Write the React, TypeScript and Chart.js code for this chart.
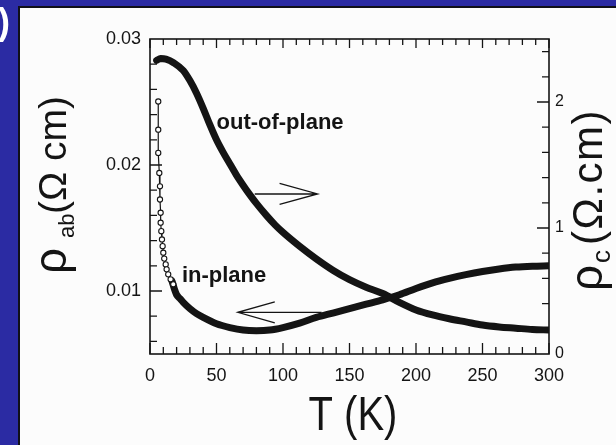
import React, { useEffect, useRef } from "react";
import { Chart, registerables } from "chart.js";

Chart.register(...registerables);

// ---- data ----
// in-plane resistivity rho_ab (Ω cm), open circles at low temperature
const inPlaneCircleT = [6.2, 6.2, 6.2, 7.0, 7.5, 7.5, 8.0, 8.0, 8.5, 9.0, 9.5, 10.0, 10.7, 11.8, 12.5, 13.7, 15.5, 17.5];
const inPlaneCircleRho = [0.02504, 0.0228, 0.02096, 0.01937, 0.01831, 0.01726, 0.01621, 0.01542, 0.01475, 0.01409, 0.01356, 0.01304, 0.01257, 0.01211, 0.01172, 0.01132, 0.01093, 0.01053];
// in-plane resistivity, dense (thick) part
const inPlaneT = [16.5, 17.5, 18.5, 20, 22.5, 25, 30, 35, 40, 50, 60, 70, 80, 90, 100, 112.5, 125, 137.5, 150, 162.5, 175, 187.5, 200, 212.5, 225, 237.5, 250, 262.5, 275, 287.5, 300];
const inPlaneRho = [0.0108, 0.01045, 0.0101, 0.0097, 0.0094, 0.0091, 0.0086, 0.0082, 0.0079, 0.0074, 0.0071, 0.0069, 0.00685, 0.0069, 0.0071, 0.00745, 0.0079, 0.00825, 0.0086, 0.00895, 0.0093, 0.0097, 0.0102, 0.01065, 0.011, 0.0113, 0.01155, 0.01175, 0.0119, 0.01197, 0.012];
// out-of-plane resistivity rho_c (Ω.cm), right axis
const outPlaneT = [5, 8, 12, 18, 25, 30, 35, 40, 45, 50, 55, 60, 65, 70, 75, 80, 87.5, 94, 100, 112.5, 125, 137.5, 150, 162.5, 175, 187.5, 200, 212.5, 225, 237.5, 250, 262.5, 275, 287.5, 300];
const outPlaneRho = [2.33, 2.345, 2.34, 2.31, 2.25, 2.17, 2.07, 1.95, 1.82, 1.70, 1.60, 1.51, 1.42, 1.34, 1.265, 1.195, 1.10, 1.025, 0.965, 0.855, 0.755, 0.665, 0.59, 0.53, 0.48, 0.41, 0.35, 0.31, 0.28, 0.255, 0.23, 0.215, 0.205, 0.195, 0.19];

// tick labels
const xTickValues = [0, 50, 100, 150, 200, 250, 300];
const leftTickValues = [0.01, 0.02, 0.03];
const rightTickValues = [0, 1, 2];

// annotation anchors (data units)
const outLabelPos = { T: 50, rho: 1.786 };      // right axis
const inLabelPos = { T: 24, rho: 0.01069 };     // left axis
const rightArrow = { T0: 78.75, T1: 126, rho: 1.27 };   // right axis
const leftArrow = { T0: 66, T1: 129, rho: 0.00831 };    // left axis

const FONT = '"Liberation Sans", Arial, Helvetica, sans-serif';
const INK = "#141414";
const BLUE = "#2b2ba3";

const backgroundPlugin = {
  id: "slideBackground",
  beforeDraw(chart: any) {
    const { ctx, width, height } = chart;
    ctx.save();
    ctx.fillStyle = BLUE;
    ctx.fillRect(0, 0, width, height);
    ctx.fillStyle = "#101018";
    ctx.fillRect(18, 6, width - 18, height - 6);
    ctx.fillStyle = "#fcfcfc";
    ctx.fillRect(20, 8, width - 20, height - 8);
    ctx.fillStyle = "#ffffff";
    ctx.font = `bold 36px ${FONT}`;
    ctx.textBaseline = "alphabetic";
    ctx.fillText(")", -2, 34);
    ctx.restore();
  },
};

function drawRotatedRuns(ctx: CanvasRenderingContext2D, x: number, y: number, runs: any[]) {
  ctx.save();
  ctx.translate(x, y);
  ctx.rotate(-Math.PI / 2);
  ctx.textAlign = "left";
  ctx.textBaseline = "alphabetic";
  for (const r of runs) {
    ctx.font = r.font;
    (ctx as any).letterSpacing = r.spacing || "0px";
    ctx.fillText(r.text, r.along, r.dy || 0);
  }
  ctx.restore();
}

const decorPlugin = {
  id: "decor",
  afterDatasetsDraw(chart: any) {
    const { ctx, chartArea: a, scales } = chart;
    const sx = scales.x, sy = scales.y, sy2 = scales.y2;
    ctx.save();
    // frame
    ctx.strokeStyle = INK;
    ctx.lineWidth = 1.6;
    ctx.strokeRect(a.left, a.top, a.right - a.left, a.bottom - a.top);
    // inward ticks
    ctx.lineWidth = 1.3;
    ctx.beginPath();
    for (let t = 0; t <= 300; t += 10) {
      const px = sx.getPixelForValue(t);
      const major = t % 50 === 0;
      ctx.moveTo(px, a.bottom);
      ctx.lineTo(px, a.bottom - (major ? 11 : 7));
      ctx.moveTo(px, a.top);
      ctx.lineTo(px, a.top + (major ? 9 : 6));
    }
    for (let i = 3; i <= 14; i++) {
      const py = sy.getPixelForValue(i * 0.002);
      const major = i % 5 === 0;
      ctx.moveTo(a.left, py);
      ctx.lineTo(a.left + (major ? 12 : 7), py);
    }
    for (let j = 1; j <= 12; j++) {
      const py = sy2.getPixelForValue(j * 0.2);
      const major = j % 5 === 0;
      ctx.moveTo(a.right, py);
      ctx.lineTo(a.right - (major ? 12 : 7), py);
    }
    ctx.stroke();

    // arrows
    ctx.lineWidth = 1.3;
    ctx.beginPath();
    const rx0 = sx.getPixelForValue(rightArrow.T0);
    const rx1 = sx.getPixelForValue(rightArrow.T1);
    const ry = sy2.getPixelForValue(rightArrow.rho);
    ctx.moveTo(rx0, ry);
    ctx.lineTo(rx1, ry);
    ctx.moveTo(rx1 - 38, ry - 10.5);
    ctx.lineTo(rx1, ry);
    ctx.lineTo(rx1 - 38, ry + 10.5);
    const lx0 = sx.getPixelForValue(leftArrow.T0);
    const lx1 = sx.getPixelForValue(leftArrow.T1);
    const ly = sy.getPixelForValue(leftArrow.rho);
    ctx.moveTo(lx1, ly);
    ctx.lineTo(lx0, ly);
    ctx.moveTo(lx0 + 37, ly - 10.5);
    ctx.lineTo(lx0, ly);
    ctx.lineTo(lx0 + 37, ly + 10.5);
    ctx.stroke();

    // curve labels
    ctx.fillStyle = INK;
    ctx.textAlign = "left";
    ctx.textBaseline = "alphabetic";
    ctx.font = `bold 22px ${FONT}`;
    ctx.fillText("out-of-plane", sx.getPixelForValue(outLabelPos.T), sy2.getPixelForValue(outLabelPos.rho));
    ctx.fillText("in-plane", sx.getPixelForValue(inLabelPos.T), sy.getPixelForValue(inLabelPos.rho));

    // axis titles
    ctx.save();
    ctx.translate(353, 430);
    ctx.scale(1, 1.18);
    ctx.textAlign = "center";
    ctx.font = `40px ${FONT}`;
    ctx.fillText("T (K)", 0, 0);
    ctx.restore();

    drawRotatedRuns(ctx, 66, 274, [
      { text: "ρ", font: `46px ${FONT}`, along: 0 },
      { text: "ab", font: `22px ${FONT}`, along: 36, dy: 8 },
      { text: "(Ω cm)", font: `39px ${FONT}`, along: 60 },
    ]);
    drawRotatedRuns(ctx, 602, 291, [
      { text: "ρ", font: `46px ${FONT}`, along: 0 },
      { text: "c", font: `26px ${FONT}`, along: 28, dy: 8 },
      { text: "(Ω.cm)", font: `42px ${FONT}`, along: 46, spacing: "1.5px" },
    ]);
    ctx.restore();
  },
};

export default function App() {
  const ref = useRef<HTMLCanvasElement | null>(null);

  useEffect(() => {
    document.body.style.margin = "0";
    const canvas = ref.current;
    if (!canvas) return;
    const toXY = (xs: number[], ys: number[]) => xs.map((x, i) => ({ x, y: ys[i] }));
    const chart = new Chart(canvas, {
      type: "line",
      data: {
        datasets: [
          {
            label: "in-plane (circles)",
            data: toXY(inPlaneCircleT, inPlaneCircleRho),
            yAxisID: "y",
            borderColor: INK,
            borderWidth: 1.2,
            pointRadius: 2.6,
            pointBorderWidth: 1.1,
            pointBackgroundColor: "#ffffff",
            pointBorderColor: INK,
            tension: 0,
          },
          {
            label: "in-plane",
            data: toXY(inPlaneT, inPlaneRho),
            yAxisID: "y",
            borderColor: INK,
            borderWidth: 7,
            borderCapStyle: "round",
            borderJoinStyle: "round",
            pointRadius: 0,
            cubicInterpolationMode: "monotone",
          },
          {
            label: "out-of-plane",
            data: toXY(outPlaneT, outPlaneRho),
            yAxisID: "y2",
            borderColor: INK,
            borderWidth: 7,
            borderCapStyle: "round",
            borderJoinStyle: "round",
            pointRadius: 0,
            cubicInterpolationMode: "monotone",
          },
        ],
      },
      options: {
        responsive: false,
        animation: false,
        devicePixelRatio: 1,
        layout: { padding: { top: 39, left: 0, right: 0, bottom: 0 } },
        plugins: { legend: { display: false }, tooltip: { enabled: false }, title: { display: false } },
        scales: {
          x: {
            type: "linear",
            position: "bottom",
            min: 0,
            max: 300,
            afterBuildTicks: (s: any) => { s.ticks = xTickValues.map((v) => ({ value: v })); },
            afterFit: (s: any) => { s.height = 91; },
            grid: { display: false, drawTicks: false },
            border: { display: false },
            ticks: { padding: 11, color: INK, font: { family: FONT, size: 18 }, maxRotation: 0, autoSkip: false },
          },
          y: {
            type: "linear",
            position: "left",
            min: 0.005,
            max: 0.03,
            afterBuildTicks: (s: any) => { s.ticks = leftTickValues.map((v) => ({ value: v })); },
            afterFit: (s: any) => { s.width = 150; },
            grid: { display: false, drawTicks: false },
            border: { display: false },
            ticks: {
              padding: 9,
              color: INK,
              font: { family: FONT, size: 18 },
              autoSkip: false,
              callback: (v: any) => Number(v).toFixed(2),
            },
          },
          y2: {
            type: "linear",
            position: "right",
            min: 0,
            max: 2.5,
            afterBuildTicks: (s: any) => { s.ticks = rightTickValues.map((v) => ({ value: v })); },
            afterFit: (s: any) => { s.width = 67; },
            grid: { display: false, drawTicks: false },
            border: { display: false },
            ticks: {
              padding: 6,
              color: INK,
              font: { family: FONT, size: 16 },
              autoSkip: false,
              callback: (v: any) => String(v),
            },
          },
        },
      },
      plugins: [backgroundPlugin, decorPlugin],
    } as any);
    return () => chart.destroy();
  }, []);

  return (
    <div style={{ position: "fixed", left: 0, top: 0, width: 616, height: 445 }}>
      <canvas ref={ref} width={616} height={445} style={{ display: "block", width: 616, height: 445 }} />
    </div>
  );
}
